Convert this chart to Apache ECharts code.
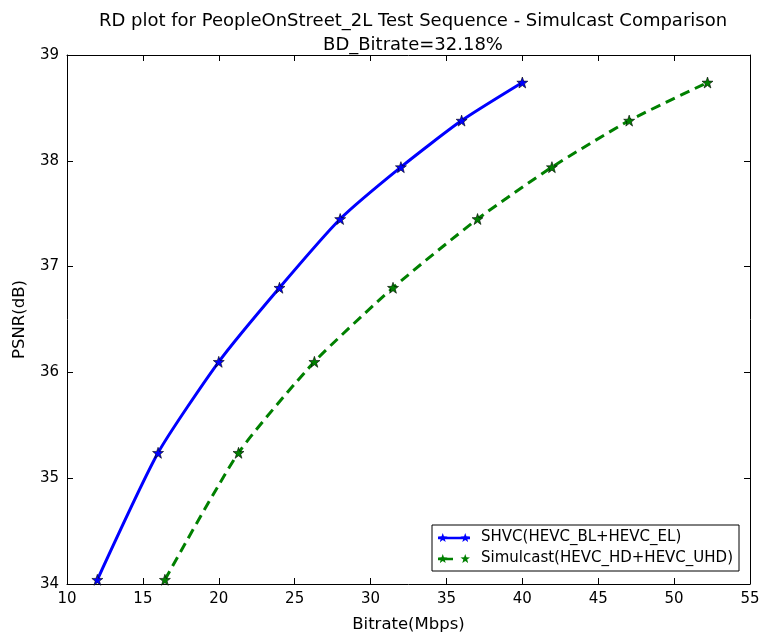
<!DOCTYPE html>
<html>
<head>
<meta charset="utf-8">
<script src="https://cdn.jsdelivr.net/npm/echarts@6/dist/echarts.min.js"></script>
<style>
  html, body { margin: 0; padding: 0; background: #fff; }
  #chart { width: 761px; height: 636px; }
</style>
</head>
<body>
<div id="chart"></div>
<script>
// Rate-distortion points: bitrate (Mbps) vs PSNR (dB)
const shvcBitrate = [12.0, 16.0, 20.0, 24.0, 28.0, 32.0, 36.0, 40.0];
const shvcPsnr = [34.04, 35.24, 36.10, 36.80, 37.45, 37.94, 38.38, 38.74];
const simulcastBitrate = [16.45, 21.3, 26.3, 31.48, 37.05, 41.95, 47.04, 52.2];
const simulcastPsnr = [34.04, 35.24, 36.10, 36.80, 37.45, 37.94, 38.38, 38.74];

const seriesNames = ['SHVC(HEVC_BL+HEVC_EL)', 'Simulcast(HEVC_HD+HEVC_UHD)'];
const seriesColors = ['#0000ff', '#008000'];
const titleLines = ['RD plot for PeopleOnStreet_2L Test Sequence - Simulcast Comparison', 'BD_Bitrate=32.18%'];
const xTicks = { min: 10, max: 55, step: 5 };
const yTicks = { min: 34, max: 39, step: 1 };

const FONT = 'DejaVu Sans';

// five-pointed star centred on (cx, cy) as SVG path commands
function starPath(cx, cy, R) {
  const r = R * 0.4;
  let d = '';
  for (let k = 0; k < 10; k++) {
    const ang = (-90 + k * 36) * Math.PI / 180;
    const rad = k % 2 === 0 ? R : r;
    d += (k === 0 ? 'M' : 'L') + (cx + rad * Math.cos(ang)).toFixed(2) + ',' + (cy + rad * Math.sin(ang)).toFixed(2) + ' ';
  }
  return d + 'Z ';
}
const STAR = 'path://' + starPath(50, 50, 50);

// legend glyphs: star - line - star (solid) and star - dash - star (dashed)
function legendGlyph(dashed) {
  const R = 50, W = 320, sx = R * 0.951;
  const cy = R;
  const lineEnd = dashed ? 150 : W;
  return 'path://' + starPath(sx, cy, R) + starPath(W - sx, cy, R) +
    'M0,' + (cy - 13) + ' L' + lineEnd + ',' + (cy - 13) + ' L' + lineEnd + ',' + (cy + 13) + ' L0,' + (cy + 13) + ' Z';
}

const zip = (xs, ys) => xs.map((x, i) => [x, ys[i]]);

const chart = echarts.init(document.getElementById('chart'), null, { renderer: 'canvas' });

const axisCommon = {
  axisLine: { show: true, onZero: false, lineStyle: { color: '#000', width: 1 } },
  axisTick: { show: true, inside: true, length: 6, lineStyle: { color: '#000', width: 1 } },
  splitLine: { show: false },
  minorTick: { show: false }
};

chart.setOption({
  animation: false,
  backgroundColor: '#fff',
  title: {
    text: titleLines.join('\n'),
    left: 408,
    textAlign: 'center',
    top: 4,
    textStyle: { fontFamily: FONT, fontSize: 18, fontWeight: 'normal', color: '#000', lineHeight: 24 }
  },
  grid: { left: 67, right: 11, top: 55, bottom: 52, containLabel: false, outerBoundsMode: 'none' },
  xAxis: [
    Object.assign({
      type: 'value', position: 'bottom',
      min: xTicks.min, max: xTicks.max, interval: xTicks.step,
      name: 'Bitrate(Mbps)', nameLocation: 'middle', nameGap: 32,
      nameTextStyle: { fontFamily: FONT, fontSize: 16.5, color: '#000' },
      axisLabel: { fontFamily: FONT, fontSize: 15, color: '#000', margin: 8 }
    }, axisCommon),
    Object.assign({
      type: 'value', position: 'top',
      min: xTicks.min, max: xTicks.max, interval: xTicks.step,
      axisLabel: { show: false }
    }, axisCommon)
  ],
  yAxis: [
    Object.assign({
      type: 'value', position: 'left',
      min: yTicks.min, max: yTicks.max, interval: yTicks.step,
      name: 'PSNR(dB)', nameLocation: 'middle', nameGap: 39, nameRotate: 90,
      nameTextStyle: { fontFamily: FONT, fontSize: 16.5, color: '#000' },
      axisLabel: { fontFamily: FONT, fontSize: 15, color: '#000', margin: 8 }
    }, axisCommon),
    Object.assign({
      type: 'value', position: 'right',
      min: yTicks.min, max: yTicks.max, interval: yTicks.step,
      axisLabel: { show: false }
    }, axisCommon)
  ],
  legend: {
    orient: 'vertical',
    left: 432,
    top: 525,
    padding: [5, 6, 5, 6],
    itemGap: 6,
    itemWidth: 32,
    itemHeight: 9,
    symbolKeepAspect: false,
    backgroundColor: '#fff',
    borderColor: '#000',
    borderWidth: 1,
    borderRadius: 0,
    textStyle: { fontFamily: FONT, fontSize: 15, color: '#000', padding: [0, 0, 0, 6] },
    data: seriesNames.map((name, i) => ({
      name: name,
      icon: legendGlyph(i === 1),
      itemStyle: { color: seriesColors[i], borderWidth: 0 }
    }))
  },
  series: [
    {
      name: seriesNames[0],
      type: 'line',
      data: zip(shvcBitrate, shvcPsnr),
      smooth: 0.2,
      symbol: STAR,
      symbolSize: 11,
      showSymbol: true,
      lineStyle: { color: seriesColors[0], width: 3 },
      itemStyle: { color: seriesColors[0], borderColor: '#000', borderWidth: 0.6 },
      z: 3
    },
    {
      name: seriesNames[1],
      type: 'line',
      data: zip(simulcastBitrate, simulcastPsnr),
      smooth: 0.2,
      symbol: STAR,
      symbolSize: 11,
      showSymbol: true,
      lineStyle: { color: seriesColors[1], width: 3, type: [10, 6] },
      itemStyle: { color: seriesColors[1], borderColor: '#000', borderWidth: 0.6 },
      z: 2
    }
  ]
});
</script>
</body>
</html>
